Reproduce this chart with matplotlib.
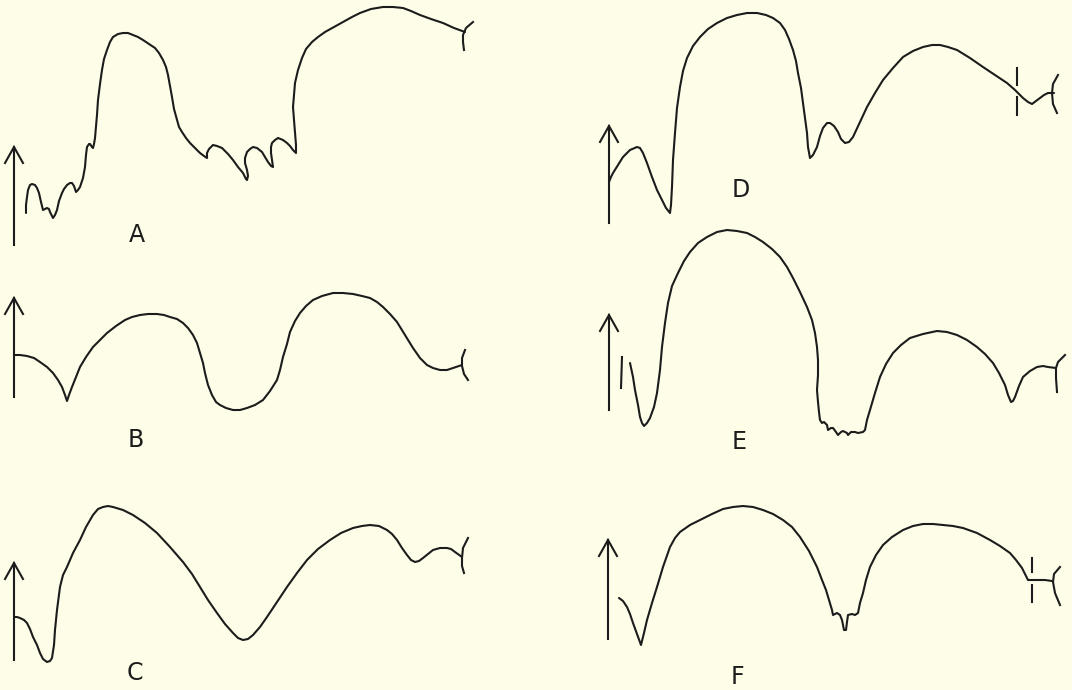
import matplotlib
matplotlib.use("Agg")
import matplotlib.pyplot as plt

# traced traces, page coordinates (x right, y down)
a_x = [26, 26, 27, 28, 30, 32, 35, 37, 39, 41, 43, 45, 47, 49, 50, 52, 53, 55, 57, 59, 62, 64, 67, 70, 72, 74,
       76, 78, 80, 83, 85, 86, 87, 89, 90, 92, 93, 94, 95, 97, 98, 100, 102, 104, 107, 110, 113, 118, 123, 128,
       133, 138, 143, 149, 155, 159, 163, 166, 168, 170, 172, 174, 177, 179, 182, 186, 190, 195, 200, 204, 207,
       207, 209, 213, 217, 222, 228, 233, 238, 243, 246, 247, 248, 247, 245, 245, 247, 250, 253, 257, 262, 265,
       268, 271, 273, 272, 271, 271, 272, 275, 278, 283, 287, 290, 293, 296, 296, 295, 294, 293, 294, 295, 298,
       302, 306, 312, 318, 325, 334, 343, 352, 360, 371, 383, 393, 403, 411, 420, 431, 443, 454, 465]
a_y = [213, 205, 197, 190, 185, 184, 185, 188, 193, 202, 210, 209, 208, 209, 212, 216, 218, 215, 210, 201, 193,
       189, 185, 183, 183, 186, 192, 190, 187, 178, 167, 155, 147, 144, 144, 147, 148, 144, 138, 115, 100, 84,
       70, 59, 50, 42, 37, 34, 33, 33, 35, 37, 40, 44, 48, 53, 60, 67, 75, 86, 97, 109, 120, 127, 132, 138, 143,
       148, 153, 156, 158, 153, 149, 145, 146, 148, 154, 160, 167, 173, 179, 180, 176, 170, 163, 158, 152, 149,
       147, 148, 152, 157, 162, 166, 167, 160, 153, 147, 143, 140, 138, 140, 143, 146, 150, 153, 145, 133, 120,
       107, 95, 83, 70, 58, 49, 42, 37, 32, 27, 22, 17, 13, 9, 7, 7, 8, 11, 15, 19, 23, 28, 32]

b_x = [14, 20, 27, 34, 40, 47, 53, 58, 62, 65, 67, 69, 72, 76, 80, 86, 93, 100, 107, 116, 125, 132, 140, 148,
       157, 164, 170, 177, 183, 188, 193, 197, 200, 203, 205, 208, 212, 216, 220, 226, 233, 240, 247, 255, 263,
       270, 277, 280, 283, 287, 290, 295, 300, 306, 313, 322, 333, 343, 353, 362, 370, 377, 383, 390, 397, 405,
       413, 420, 427, 433, 440, 447, 453, 462]
b_y = [355, 355, 356, 358, 362, 367, 373, 380, 387, 395, 401, 395, 387, 377, 367, 357, 347, 340, 333, 326, 320,
       317, 315, 314, 314, 315, 317, 319, 323, 328, 335, 343, 353, 363, 373, 385, 395, 402, 405, 408, 410, 410,
       408, 405, 400, 391, 380, 370, 357, 344, 332, 321, 313, 306, 300, 296, 293, 293, 294, 296, 298, 302, 307,
       314, 322, 335, 348, 358, 365, 368, 370, 370, 368, 365]

c_x = [14, 17, 20, 24, 27, 30, 33, 37, 40, 43, 47, 50, 52, 54, 55, 57, 60, 63, 67, 73, 80, 86, 93, 98, 103, 108,
       113, 123, 133, 145, 157, 170, 183, 192, 200, 208, 217, 225, 233, 238, 243, 248, 253, 260, 267, 277, 287,
       297, 307, 318, 330, 341, 353, 362, 370, 379, 387, 392, 397, 402, 407, 411, 415, 419, 423, 428, 433, 440,
       447, 451, 455, 462]
c_y = [617, 617, 618, 620, 623, 629, 637, 645, 653, 659, 662, 661, 658, 645, 630, 610, 587, 575, 567, 553, 540,
       527, 515, 509, 507, 506, 507, 510, 515, 523, 533, 547, 562, 574, 587, 600, 613, 624, 633, 638, 640, 639,
       635, 627, 617, 602, 587, 573, 560, 549, 540, 533, 528, 526, 525, 526, 530, 534, 540, 548, 555, 560, 562,
       561, 558, 554, 550, 548, 548, 549, 552, 557]

d_x = [609, 611, 613, 618, 623, 630, 637, 640, 643, 647, 652, 657, 662, 666, 670, 671, 672, 673, 675, 677, 680,
       683, 687, 693, 700, 708, 717, 727, 737, 747, 757, 766, 773, 780, 785, 789, 793, 796, 798, 801, 803, 805,
       807, 808, 810, 813, 817, 820, 823, 827, 830, 834, 838, 841, 845, 849, 853, 860, 867, 875, 883, 893, 903,
       913, 923, 932, 940, 948, 957, 970, 983, 995, 1007, 1015, 1023, 1028, 1032, 1036, 1040, 1044, 1048, 1054]
d_y = [182, 177, 173, 165, 157, 150, 147, 148, 153, 163, 177, 190, 200, 208, 213, 205, 187, 160, 133, 108, 87,
       71, 58, 46, 37, 29, 23, 18, 15, 13, 13, 15, 18, 23, 30, 39, 50, 61, 73, 88, 103, 118, 133, 147, 158, 155,
       147, 136, 128, 123, 123, 126, 132, 139, 143, 142, 137, 122, 107, 93, 80, 68, 57, 51, 47, 45, 45, 47, 50,
       58, 67, 75, 83, 90, 98, 102, 104, 101, 98, 95, 93, 93]

e_x = [630, 633, 635, 638, 640, 642, 644, 647, 650, 654, 657, 660, 662, 665, 668, 672, 678, 684, 690, 698, 707,
       717, 727, 737, 747, 755, 763, 772, 780, 787, 793, 800, 807, 812, 815, 817, 818, 818, 817, 818, 819, 820,
       822, 824, 827, 828, 831, 833, 836, 838, 841, 843, 847, 848, 851, 855, 858, 863, 865, 867, 870, 875, 880,
       886, 893, 901, 910, 923, 937, 947, 957, 967, 977, 985, 993, 999, 1005, 1008, 1011, 1013, 1015, 1019,
       1023, 1030, 1037, 1043, 1048, 1056]
e_y = [363, 377, 390, 405, 417, 423, 426, 423, 418, 407, 393, 370, 347, 323, 303, 286, 273, 261, 252, 243, 237,
       232, 230, 231, 233, 237, 242, 249, 257, 267, 278, 292, 307, 320, 333, 347, 360, 375, 390, 402, 412, 420,
       423, 422, 425, 430, 428, 428, 432, 435, 432, 431, 433, 435, 432, 432, 433, 432, 430, 420, 410, 393, 377,
       364, 353, 345, 338, 334, 331, 332, 335, 340, 347, 354, 363, 373, 385, 395, 402, 401, 397, 386, 377, 371,
       367, 366, 367, 368]

f_x = [619, 623, 627, 630, 633, 637, 641, 644, 647, 652, 657, 663, 670, 675, 680, 690, 700, 712, 723, 733, 743,
       753, 763, 773, 783, 792, 800, 809, 817, 822, 826, 829, 832, 833, 837, 840, 842, 844, 846, 847, 848, 852,
       855, 858, 860, 863, 866, 870, 876, 883, 892, 903, 913, 923, 933, 943, 953, 963, 977, 990, 1000, 1010,
       1016, 1022, 1025, 1028, 1033, 1038, 1045, 1052]
f_y = [598, 601, 607, 614, 623, 634, 645, 633, 620, 603, 587, 567, 547, 538, 532, 525, 520, 514, 509, 507, 506,
       507, 510, 514, 520, 527, 537, 551, 567, 580, 590, 600, 610, 615, 613, 615, 620, 630, 630, 622, 615, 614,
       615, 613, 603, 593, 580, 567, 555, 545, 537, 530, 526, 524, 524, 525, 526, 528, 533, 540, 546, 553, 560,
       568, 574, 580, 580, 580, 580, 581]

# end caps "(" at the right of each trace
cap_x = {"A": [473, 466, 463, 463, 464], "B": [465, 462, 462, 464, 468], "C": [468, 463, 462, 462, 464],
         "D": [1058, 1053, 1052, 1053, 1057], "E": [1065, 1058, 1056, 1056, 1057],
         "F": [1060, 1054, 1053, 1055, 1060]}
cap_y = {"A": [22, 28, 35, 42, 50], "B": [350, 358, 366, 374, 380], "C": [538, 548, 558, 566, 573],
         "D": [75, 84, 93, 104, 113], "E": [355, 362, 368, 378, 392], "F": [567, 574, 582, 593, 605]}

# upward arrows: x, bottom, top
arrows = {"A": (14, 245, 147), "B": (14, 397, 298), "C": (14, 660, 563),
          "D": (609, 223, 126), "E": (609, 410, 315), "F": (608, 639, 540)}

labels = ["A", "B", "C", "D", "E", "F"]
label_x = [137, 136, 135, 741, 739, 737]
label_y = [235, 440, 673, 190, 442, 677]

# small vertical marks
marks_x = [1017, 1017, 1032, 1032, 622]
marks_y0 = [68, 97, 558, 585, 357]
marks_y1 = [85, 115, 572, 602, 388]
marks_x1 = [1017, 1017, 1032, 1032, 621]

ink = "#1c1c1c"
paper = "#fdfde8"

fig = plt.figure(figsize=(10.72, 6.9), dpi=100, facecolor=paper)
ax = fig.add_axes([0, 0, 1, 1])
ax.set_facecolor(paper)
ax.set_xlim(0, 1072)
ax.set_ylim(690, 0)
ax.axis("off")

lw = 1.5
for xs, ys in [(a_x, a_y), (b_x, b_y), (c_x, c_y), (d_x, d_y), (e_x, e_y), (f_x, f_y)]:
    ax.plot(xs, ys, color=ink, lw=lw, solid_joinstyle="round", solid_capstyle="round")

for k in labels:
    ax.plot(cap_x[k], cap_y[k], color=ink, lw=lw, solid_joinstyle="round")
    x, y0, y1 = arrows[k]
    ax.plot([x, x], [y0, y1], color=ink, lw=lw)
    ax.plot([x - 9, x, x + 9], [y1 + 16, y1, y1 + 16], color=ink, lw=lw, solid_joinstyle="miter")

for i in range(len(marks_x)):
    ax.plot([marks_x[i], marks_x1[i]], [marks_y0[i], marks_y1[i]], color=ink, lw=lw)

for lab, x, y in zip(labels, label_x, label_y):
    ax.text(x, y, lab, ha="center", va="center", fontsize=17, color=ink, family="DejaVu Sans")

fig.savefig("out.png", dpi=100, facecolor=paper)
